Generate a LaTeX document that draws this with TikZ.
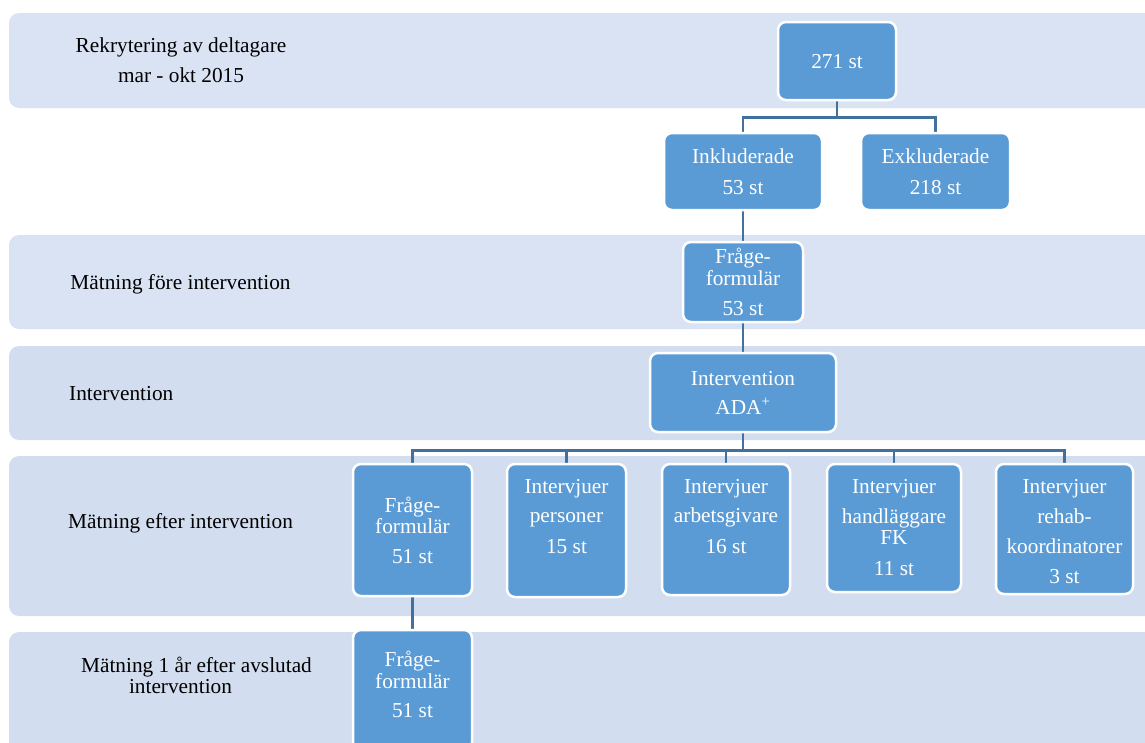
\documentclass[tikz,border=0pt]{standalone}
\usepackage{fontspec}
\setmainfont{Liberation Serif}
\definecolor{bandA}{HTML}{DAE3F3}
\definecolor{bandB}{HTML}{D2DEEF}
\definecolor{boxfill}{HTML}{5B9BD5}
\definecolor{linkc}{HTML}{41719C}
\pgfdeclarelayer{bandlayer}
\pgfdeclarelayer{linklayer}
\pgfsetlayers{bandlayer,linklayer,main}
\newcommand\nbox[4]{\parbox[c][#2pt][t]{#1pt}{\fontsize{21.3}{30}\selectfont\centering\vspace*{#3pt}\rule{0pt}{20pt}#4}}
\newcommand\lst{\rule[-9pt]{0pt}{30pt}}
\tikzset{
  stagebox/.style={draw=white, line width=2.5pt, rounded corners=8pt, inner sep=0pt, fill=boxfill, text=white},
  bandshape/.style={rounded corners=10pt},
  stagelabel/.style={inner sep=0pt, align=center, font=\fontsize{21.3}{30}\selectfont, text=black},
  link/.style={draw=linkc, line width=2.5pt},
}
\begin{document}
\begin{tikzpicture}[x=1pt,y=-1pt]
\useasboundingbox (0,0) rectangle (1145,742);
\begin{pgfonlayer}{bandlayer}
  \fill[bandA, bandshape] (9,13) rectangle (1165,108);
  \fill[bandA, bandshape] (9,235) rectangle (1165,329);
  \fill[bandB, bandshape] (9,346) rectangle (1165,440);
  \fill[bandB, bandshape] (9,456) rectangle (1165,616);
  \fill[bandB, bandshape] (9,632) rectangle (1165,790);
\end{pgfonlayer}

% left labels
\node[stagelabel] (l1) at (181,61) {\lst Rekrytering av deltagare\\\lst mar - okt 2015};
\node[stagelabel] (l2) at (180.5,283) {\lst Mätning före intervention};
\node[stagelabel, anchor=west] (l3) at (69,394) {\lst Intervention};
\node[stagelabel] (l4) at (180.5,522) {\lst Mätning efter intervention};
\node[stagelabel] (l5) at (180.5,676.5) {\lst\hspace*{32pt}Mätning 1 år efter avslutad\\[-9pt]\lst intervention};

% boxes
\node[stagebox] (n271) at (837,61) {\nbox{118}{78}{26}{271 st}};
\node[stagebox] (ink) at (743,171.5) {\nbox{158}{77}{10}{Inkluderade\\[1pt]53 st}};
\node[stagebox] (exk) at (935.5,171.5) {\nbox{149}{77}{10}{Exkluderade\\[1pt]218 st}};
\node[stagebox] (f53) at (743,282) {\nbox{120}{80}{1}{Fråge-\\[-8pt]formulär\\53 st}};
\node[stagebox] (int) at (743,392.5) {\nbox{186}{79}{12}{Intervention\\[-1pt]ADA\textsuperscript{+}}};
\node[stagebox] (f51a) at (412.5,530) {\nbox{119}{132}{28}{Fråge-\\[-9pt]formulär\\51 st}};
\node[stagebox] (pers) at (566.5,530.5) {\nbox{119}{133}{9}{Intervjuer\\[-1pt]personer\\[1pt]15 st}};
\node[stagebox] (arb) at (726,529.5) {\nbox{128}{131}{9}{Intervjuer\\[-1pt]arbetsgivare\\[1pt]16 st}};
\node[stagebox] (fk) at (894,528) {\nbox{134}{128}{9}{Intervjuer\\handläggare\\[-9pt]FK\\[1pt]11 st}};
\node[stagebox] (reh) at (1064.5,529) {\nbox{137}{130}{9}{Intervjuer\\rehab-\\koordinatorer\\3 st}};
\node[stagebox] (f51b) at (412.5,690) {\nbox{119}{120}{16}{Fråge-\\[-8pt]formulär\\[-1pt]51 st}};

\begin{pgfonlayer}{linklayer}
  \draw[link] (n271.south) -- ++(0,16) coordinate (j1);
  \draw[link] (ink.north) |- (j1) -| (exk.north);
  \draw[link] (ink.south) -- (f53.north);
  \draw[link] (f53.south) -- (int.north);
  \draw[link] (int.south) -- ++(0,17) coordinate (j2);
  \draw[link] (f51a.north) |- (j2) -| (reh.north);
  \draw[link] (j2) -| (pers.north);
  \draw[link] (j2) -| (arb.north);
  \draw[link] (j2) -| (fk.north);
  \draw[link] (f51a.south) -- (f51b.north);
\end{pgfonlayer}
\end{tikzpicture}
\end{document}
